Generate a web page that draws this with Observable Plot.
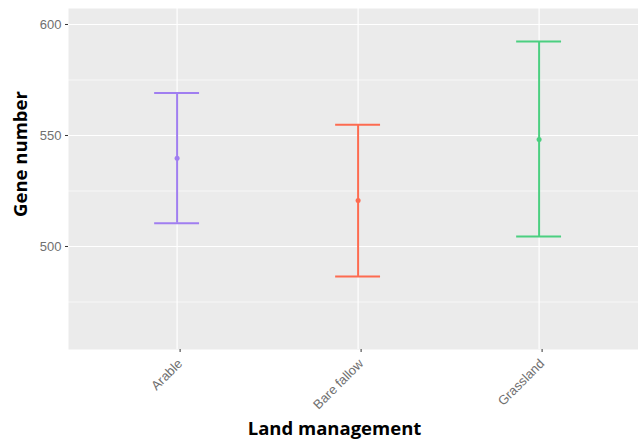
<!DOCTYPE html>
<html>
<head>
<meta charset="utf-8">
<script src="https://cdn.jsdelivr.net/npm/d3@7"></script>
<script src="https://cdn.jsdelivr.net/npm/@observablehq/plot@0.6"></script>
<style>
  html, body { margin: 0; padding: 0; background: #ffffff; }
  #chart { width: 638px; height: 442px; }
</style>
</head>
<body>
<div id="chart"></div>
<script>
const categories = ["Arable", "Bare fallow", "Grassland"];
const means = [539.8, 520.7, 548.2];
const lower = [510.5, 486.5, 504.5];
const upper = [569.1, 554.8, 592.3];
const colors = ["#a07ef0", "#fd6b50", "#4bcf80"];
const yTicks = [500, 550, 600];
const yMinor = [475, 525, 575];

const data = categories.map((c, i) => ({
  cat: c, idx: i + 1, mean: means[i], lo: lower[i], hi: upper[i], color: colors[i]
}));
const capHalf = 0.124;

const plot = Plot.plot({
  width: 638,
  height: 442,
  marginLeft: 68,
  marginRight: 0,
  marginTop: 8,
  marginBottom: 93,
  style: { fontFamily: "Liberation Sans, Arial, sans-serif", fontSize: "13px", background: "#ffffff" },
  x: { type: "linear", domain: [0.4, 0.4 + 570 / 181], axis: null },
  y: { domain: [453.6, 607.2], axis: null },
  marks: [
    Plot.frame({ fill: "#ebebeb", stroke: null }),
    Plot.ruleY(yMinor, { stroke: "#ffffff", strokeWidth: 0.6 }),
    Plot.ruleY(yTicks, { stroke: "#ffffff", strokeWidth: 1.2 }),
    Plot.ruleX(data, { x: "idx", stroke: "#ffffff", strokeWidth: 1.2 }),
    Plot.axisY(yTicks, { tickSize: 3, tickPadding: 4, stroke: "#333333", color: "#707070", fontSize: 13, label: null }),
    Plot.axisX(data.map(d => d.idx), { tickSize: 3, tickRotate: -45, tickPadding: 9, dx: 3, stroke: "#333333", color: "#707070", fontSize: 13, label: null,
      tickFormat: d => categories[d - 1] }),
    Plot.ruleX(data, { x: "idx", y1: "lo", y2: "hi", stroke: "color", strokeWidth: 2 }),
    Plot.ruleY(data, { y: "hi", x1: d => d.idx - capHalf, x2: d => d.idx + capHalf, stroke: "color", strokeWidth: 2 }),
    Plot.ruleY(data, { y: "lo", x1: d => d.idx - capHalf, x2: d => d.idx + capHalf, stroke: "color", strokeWidth: 2 }),
    Plot.dot(data, { x: "idx", y: "mean", fill: "color", r: 2.5, stroke: null }),
    Plot.text(["Gene number"], { frameAnchor: "left", textAnchor: "middle", dx: -47, dy: -25, rotate: -90, fontWeight: "bold", fontSize: 18.5,
      fill: "#000000", fontFamily: "Open Sans, sans-serif" }),
    Plot.text(["Land management"], { frameAnchor: "bottom", dx: -19, dy: 85, fontWeight: "bold", fontSize: 18.5,
      fill: "#000000", fontFamily: "Open Sans, sans-serif" })
  ],
  color: { type: "identity" }
});
document.getElementById("chart").appendChild(plot);
</script>
</body>
</html>
